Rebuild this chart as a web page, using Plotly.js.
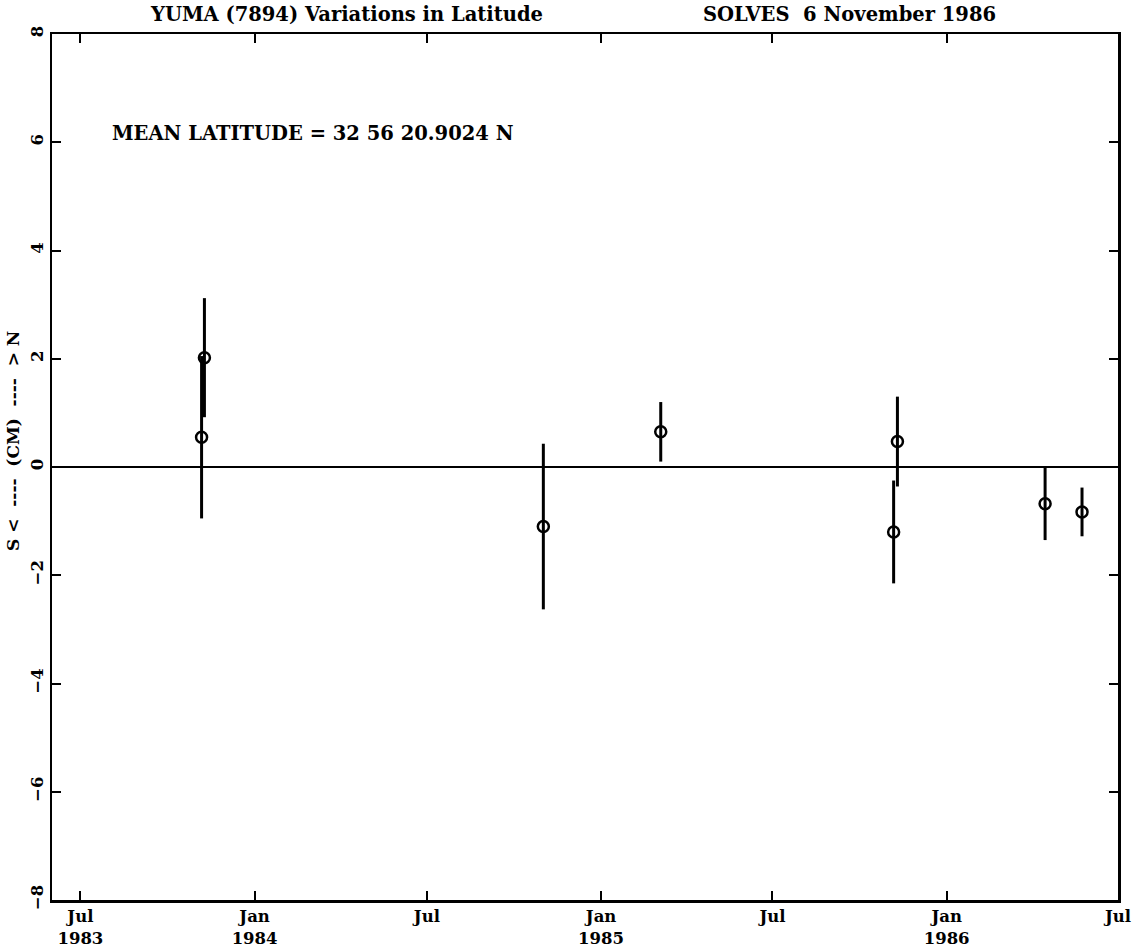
<!DOCTYPE html>
<html>
<head>
<meta charset="utf-8">
<script src="https://cdn.plot.ly/plotly-3.0.1.min.js"></script>
<style>html,body{margin:0;padding:0;background:#fff;}#chart{width:1145px;height:948px;}</style>
</head>
<body>
<div id="chart"></div>
<script>
// Observation dates, latitude variation (cm) and 1-sigma errors
const dates = ["1983-11-06", "1983-11-09", "1984-11-01", "1985-03-05", "1985-11-06", "1985-11-10", "1986-04-15", "1986-05-24"];
const values = [0.55, 2.02, -1.10, 0.65, -1.20, 0.47, -0.68, -0.83];
const errors = [1.50, 1.10, 1.53, 0.55, 0.95, 0.83, 0.67, 0.45];

const tickDates = ["1983-07-01", "1984-01-01", "1984-07-01", "1985-01-01", "1985-07-01", "1986-01-01", "1986-07-01"];
const tickLabels = ["Jul<br>1983", "Jan<br>1984", "Jul", "Jan<br>1985", "Jul", "Jan<br>1986", "Jul"];
const yTicks = [-8, -6, -4, -2, 0, 2, 4, 6, 8];

const titleLeft = "YUMA (7894) Variations in Latitude";
const titleRight = "SOLVES  6 November 1986";
const meanText = "MEAN LATITUDE = 32 56 20.9024 N";
const yTitle = "S <  ----  (CM)  ----  > N";

const fam = "DejaVu Serif";
const trace = {
  x: dates, y: values, type: "scatter", mode: "markers",
  marker: {symbol: "circle-open", size: 11, color: "#000", line: {width: 2.5, color: "#000"}},
  error_y: {type: "data", array: errors, visible: true, color: "#000", thickness: 3, width: 0},
  showlegend: false, hoverinfo: "skip"
};

const layout = {
  width: 1145, height: 948,
  margin: {l: 52, r: 27, t: 34, b: 48},
  paper_bgcolor: "#fff", plot_bgcolor: "#fff",
  font: {family: fam, color: "#000", size: 15, weight: "bold"},
  xaxis: {
    type: "date", range: ["1983-06-01", "1986-07-01"],
    tickmode: "array", tickvals: tickDates, ticktext: tickLabels,
    ticks: "inside", ticklen: 9, tickwidth: 2, tickcolor: "#000",
    showline: true, linecolor: "#000", linewidth: 2.5, mirror: "ticks",
    showgrid: false, zeroline: false,
    tickfont: {family: fam, size: 16.5, color: "#000", weight: "bold"}
  },
  yaxis: {
    range: [-8, 8], tickmode: "array", tickvals: yTicks,
    ticks: "inside", ticklen: 9, tickwidth: 2, tickcolor: "#000",
    showline: true, linecolor: "#000", linewidth: 2.5, mirror: "ticks",
    showgrid: false, zeroline: true, zerolinecolor: "#000", zerolinewidth: 2.5,
    tickangle: -90,
    tickfont: {family: fam, size: 16.5, color: "#000", weight: "bold"}
  },
  annotations: [
    {text: titleLeft, xref: "paper", yref: "paper", x: 0.276, y: 1, xanchor: "center", yanchor: "bottom", yshift: 6, showarrow: false,
     font: {family: fam, size: 19.5, color: "#000", weight: "bold"}},
    {text: titleRight, xref: "paper", yref: "paper", x: 0.748, y: 1, xanchor: "center", yanchor: "bottom", yshift: 6, showarrow: false,
     font: {family: fam, size: 19.5, color: "#000", weight: "bold"}},
    {text: meanText, xref: "paper", yref: "paper", x: 0.054, y: 0.885, xanchor: "left", yanchor: "middle", showarrow: false,
     font: {family: fam, size: 19.5, color: "#000", weight: "bold"}},
    {text: yTitle, xref: "paper", yref: "paper", x: 0, y: 0.5, xanchor: "center", yanchor: "middle", xshift: -39, yshift: 26,
     textangle: -90, showarrow: false, font: {family: fam, size: 17, color: "#000", weight: "bold"}}
  ]
};

Plotly.newPlot("chart", [trace], layout, {displayModeBar: false, staticPlot: true});
</script>
</body>
</html>
